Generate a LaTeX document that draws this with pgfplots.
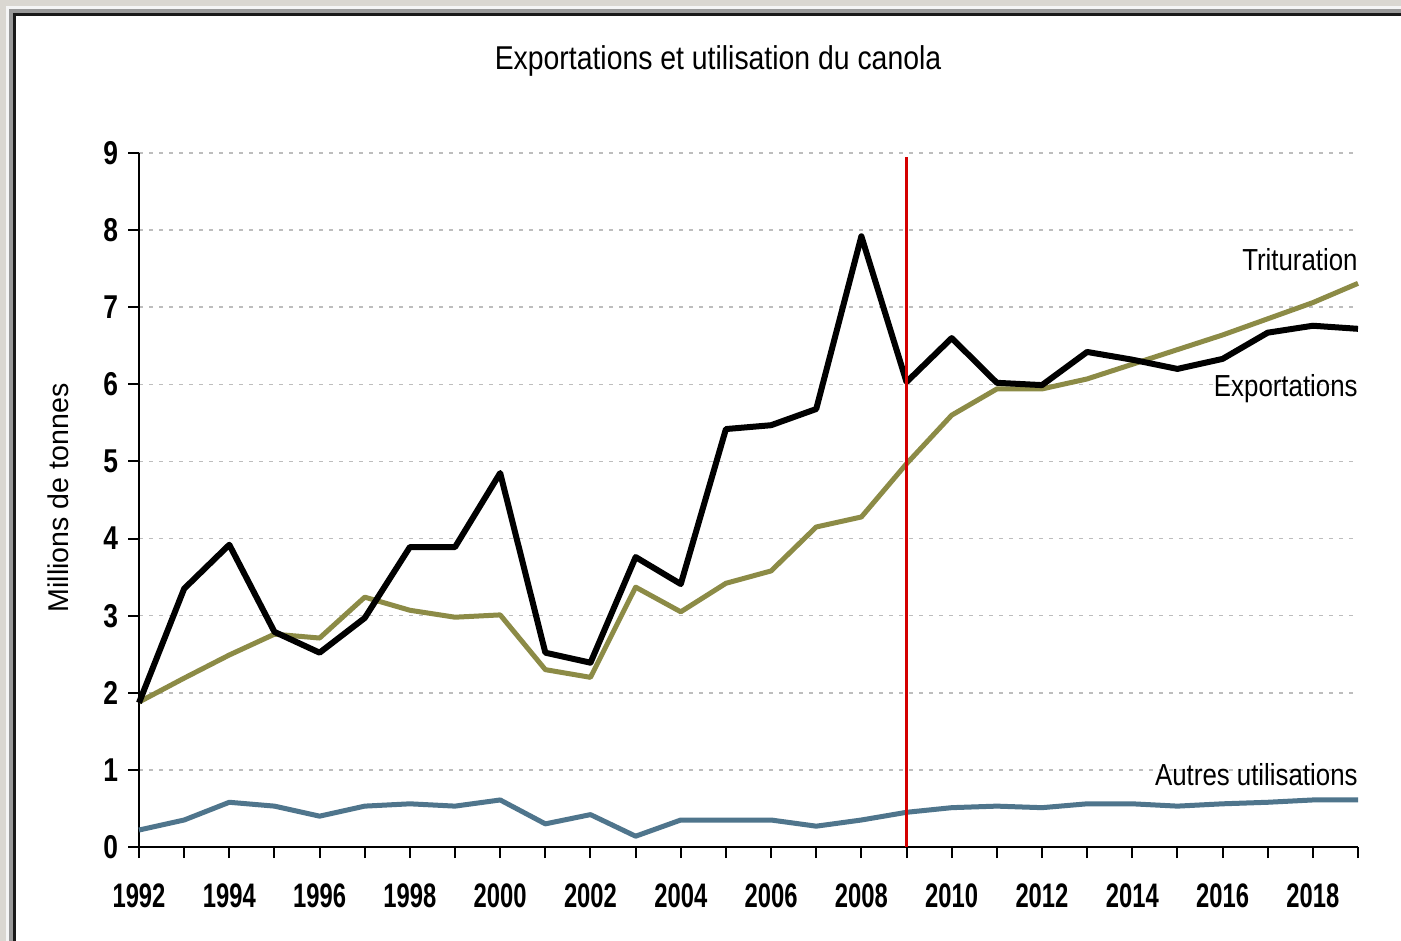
\documentclass[border=0pt]{standalone}
\usepackage{fontspec}
\setmainfont{Liberation Sans}
\newfontfamily\narrowfont{Liberation Sans}[FakeStretch=0.85]
\newfontfamily\titlefont{Liberation Sans}[FakeStretch=0.86]
\newfontfamily\tickfont{Liberation Sans}[FakeStretch=0.70]
\newfontfamily\ytickfont{Liberation Sans}[FakeStretch=0.80]
\usepackage{pgfplots}
\pgfplotsset{compat=1.18}
\definecolor{olivec}{HTML}{8C8B46}
\definecolor{bluec}{HTML}{4F758C}
\definecolor{redc}{HTML}{D40000}
\definecolor{bgc}{HTML}{DAD7D1}
\definecolor{gridc}{HTML}{BDBDBD}
\begin{document}
\begin{tikzpicture}
\useasboundingbox (0,0) rectangle (700.5pt,470.5pt);
\begin{scope}[x=0.5pt,y=-0.5pt,shift={(0,470.5pt)}]
\fill[bgc] (0,0) rectangle (1401,941);
\fill[white!92!gray] (6,6) rectangle (1430,970);
\fill[black!40] (9,9) rectangle (1430,970);
\fill[black!90] (13,13) rectangle (1430,970);
\fill[white] (16,16) rectangle (1430,970);
\end{scope}
\node[anchor=base,inner sep=0,font=\titlefont\fontsize{16.5}{16.5}\selectfont] at (359pt,435.5pt) {Exportations et utilisation du canola};
\node[rotate=90,anchor=base,inner sep=0,font=\fontsize{14.3}{14.3}\selectfont] at (34pt,221.5pt) {Millions de tonnes};
\begin{axis}[
  at={(69.5pt,47pt)}, anchor=south west,
  scale only axis, width=609.5pt, height=347pt,
  xmin=1992, xmax=2019, ymin=0, ymax=9,
  axis x line=bottom, axis y line=left,
  axis line style={line width=1pt,-},
  clip=false,
  tick align=outside,
  xtick={1992,1994,...,2018},
  minor xtick={1993,1995,...,2019},
  ytick={0,1,...,9},
  major tick length=5.5pt, minor tick length=5.5pt,
  tick style={line width=1pt,black},
  xticklabel style={font=\tickfont\bfseries\fontsize{17}{17}\selectfont, yshift=-9.5pt},
  yticklabel style={font=\ytickfont\bfseries\fontsize{16.5}{16.5}\selectfont, xshift=-1.5pt},
  /pgf/number format/assume math mode=true,
  xticklabel={\pgfmathprintnumber[1000 sep={}]{\tick}},
  ymajorgrids,
  grid style={gridc, line width=0.75pt, dash pattern=on 2pt off 3pt},
  line join=round,
]
\addplot[bluec, line width=2.5pt, no marks] coordinates {
(1992,0.22) (1993,0.35) (1994,0.58) (1995,0.53) (1996,0.40) (1997,0.53) (1998,0.56) (1999,0.53) (2000,0.61) (2001,0.30) (2002,0.42) (2003,0.14) (2004,0.35) (2005,0.35) (2006,0.35) (2007,0.27) (2008,0.35) (2009,0.45) (2010,0.51) (2011,0.53) (2012,0.51) (2013,0.56) (2014,0.56) (2015,0.53) (2016,0.56) (2017,0.58) (2018,0.61) (2019,0.61)};
\addplot[olivec, line width=2.5pt, no marks] coordinates {
(1992,1.88) (1993,2.19) (1994,2.49) (1995,2.76) (1996,2.71) (1997,3.24) (1998,3.07) (1999,2.98) (2000,3.01) (2001,2.30) (2002,2.20) (2003,3.37) (2004,3.05) (2005,3.42) (2006,3.58) (2007,4.15) (2008,4.28) (2009,4.97) (2010,5.60) (2011,5.94) (2012,5.94) (2013,6.07) (2014,6.26) (2015,6.45) (2016,6.64) (2017,6.85) (2018,7.06) (2019,7.31)};
\addplot[black, line width=3pt, no marks] coordinates {
(1992,1.87) (1993,3.35) (1994,3.92) (1995,2.79) (1996,2.52) (1997,2.97) (1998,3.89) (1999,3.89) (2000,4.85) (2001,2.52) (2002,2.39) (2003,3.76) (2004,3.41) (2005,5.42) (2006,5.47) (2007,5.68) (2008,7.92) (2009,6.03) (2010,6.60) (2011,6.02) (2012,5.99) (2013,6.42) (2014,6.32) (2015,6.20) (2016,6.33) (2017,6.67) (2018,6.76) (2019,6.72)};
\addplot[redc, line width=1.8pt, no marks] coordinates {(2009,0) (2009,8.95)};
\node[anchor=base east,inner sep=0,font=\narrowfont\fontsize{15.2}{15.2}\selectfont] at (axis cs:2019,7.48) {Trituration};
\node[anchor=base east,inner sep=0,font=\narrowfont\fontsize{15.2}{15.2}\selectfont] at (axis cs:2019,5.84) {Exportations};
\node[anchor=base east,inner sep=0,font=\narrowfont\fontsize{15.2}{15.2}\selectfont] at (axis cs:2019,0.80) {Autres utilisations};
\end{axis}
\end{tikzpicture}
\end{document}
